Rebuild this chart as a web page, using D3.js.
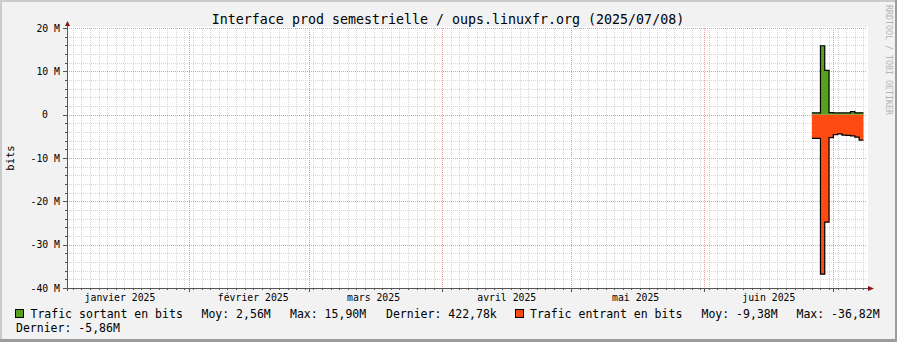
<!DOCTYPE html>
<html>
<head>
<meta charset="utf-8">
<script src="https://cdn.jsdelivr.net/npm/d3@7"></script>
<style>
	body { margin: 0; background: #fff; }
	svg { display: block; }
	text { font-family: 'DejaVu Sans Mono', monospace; }
</style>
</head>
<body>
<svg></svg>
<script>
'use strict'

// jours (UTC) et valeurs en bits/s
let days = ['2025-06-26', '2025-06-27', '2025-06-28', '2025-06-29', '2025-06-30', '2025-07-01',
	'2025-07-02', '2025-07-03', '2025-07-04', '2025-07-05', '2025-07-06', '2025-07-07']
let sortant = [0.40, 0.40, 15.90, 10.20, 0.45, 0.40, 0.40, 0.40, 0.40, 0.72, 0.42, 0.42]
let entrant = [5.45, 5.45, 36.82, 24.80, 5.30, 4.60, 4.45, 4.70, 4.80, 4.90, 5.20, 5.86]

let monthLabels = ['janvier 2025', 'février 2025', 'mars 2025', 'avril 2025', 'mai 2025', 'juin 2025']
let legendOut = ['Trafic sortant en bits', 'Moy: 2,56M', 'Max: 15,90M', 'Dernier: 422,78k']
let legendIn = ['Trafic entrant en bits', 'Moy: -9,38M', 'Max: -36,82M', 'Dernier: -5,86M']
let title = 'Interface prod semestrielle / oups.linuxfr.org (2025/07/08)'

let width = 897,
	height = 342

let pLeft = 67, pRight = 867, pTop = 28, pBottom = 288

let colOut = '#55a01d',
	colIn = '#ff4b12'

let svg = d3.select('svg')
	.attr('width', width)
	.attr('height', height)

// fond + ombrage style rrdtool
svg.append('rect').attr('width', width).attr('height', height).attr('fill', '#f2f2f2')
svg.append('path').attr('d', 'M0,0H' + width + 'V2H2V' + height + 'H0Z').attr('fill', '#cbcbcb')
svg.append('path').attr('d', 'M' + width + ',0V' + height + 'H0V' + (height - 3) + 'H' + (width - 2) + 'V0Z').attr('fill', '#9c9c9c')

let start = new Date(Date.UTC(2025, 0, 3, 16)),
	end = new Date(Date.UTC(2025, 6, 8, 20))

let x = d3.scaleUtc().domain([start, end]).range([pLeft, pRight])
let y = d3.scaleLinear().domain([-40e6, 20e6]).range([pBottom, pTop])

svg.append('rect')
	.attr('x', pLeft).attr('y', pTop - 1)
	.attr('width', pRight - pLeft + 1).attr('height', pBottom - pTop + 1)
	.attr('fill', '#ffffff')

let px = function(v) { return Math.round(v) + 0.5 }

let grid = svg.append('g').attr('class', 'grid')

// grille fine : tous les 2 jours, tous les 2 M
let jan1 = new Date(Date.UTC(2025, 0, 1))
let minorDays = d3.utcDay.range(start, end).filter(function(d) {
	return d3.utcDay.count(jan1, d) % 2 === 0
})
let months = d3.utcMonth.range(start, end)
let labelMonths = d3.utcMonth.range(jan1, end).slice(0, monthLabels.length)

grid.selectAll('line.vmin')
	.data(minorDays)
	.enter().append('line')
	.attr('x1', function(d) { return px(x(d)) })
	.attr('x2', function(d) { return px(x(d)) })
	.attr('y1', pTop).attr('y2', pBottom)
	.attr('stroke', '#d6d6d6')
	.attr('stroke-dasharray', '1,1')

grid.selectAll('line.hmin')
	.data(d3.range(-40e6, 20e6 + 1, 2e6))
	.enter().append('line')
	.attr('x1', pLeft).attr('x2', pRight)
	.attr('y1', function(d) { return px(y(d)) })
	.attr('y2', function(d) { return px(y(d)) })
	.attr('stroke', '#d6d6d6')
	.attr('stroke-dasharray', '1,1')

grid.selectAll('line.vmaj')
	.data(months)
	.enter().append('line')
	.attr('x1', function(d) { return px(x(d)) })
	.attr('x2', function(d) { return px(x(d)) })
	.attr('y1', pTop).attr('y2', pBottom)
	.attr('stroke', '#ef9a9a')
	.attr('stroke-dasharray', '1,1')

let yMajor = y.ticks(6)

grid.selectAll('line.hmaj')
	.data(yMajor)
	.enter().append('line')
	.attr('x1', pLeft).attr('x2', pRight)
	.attr('y1', function(d) { return px(y(d)) })
	.attr('y2', function(d) { return px(y(d)) })
	.attr('stroke', '#ef9a9a')
	.attr('stroke-dasharray', '1,1')

// courbes
let pts = function(vals, sign) {
	let p = days.map(function(d, i) {
		return { t: new Date(d + 'T00:00:00Z'), v: sign * vals[i] * 1e6 }
	})
	p.push({ t: d3.utcDay.offset(p[p.length - 1].t, 1), v: p[p.length - 1].v })
	return p
}

let area = d3.area()
	.curve(d3.curveStepAfter)
	.x(function(d) { return x(d.t) })
	.y0(y(0))
	.y1(function(d) { return y(d.v) })

let line = d3.line()
	.curve(d3.curveStepAfter)
	.x(function(d) { return x(d.t) })
	.y(function(d) { return y(d.v) })

let outPts = pts(sortant, 1),
	inPts = pts(entrant, -1)

svg.append('path').attr('d', area(outPts)).attr('fill', colOut)
svg.append('path').attr('d', area(inPts)).attr('fill', colIn)
svg.append('path').attr('d', line(outPts)).attr('fill', 'none').attr('stroke', '#000').attr('stroke-width', 1.2)
svg.append('path').attr('d', line(inPts)).attr('fill', 'none').attr('stroke', '#000').attr('stroke-width', 1.2)

// axes
let axisCol = '#555555'
let ticks = svg.append('g').attr('stroke', axisCol)

ticks.selectAll('line.yt')
	.data(d3.range(-40e6, 20e6 + 1, 2e6))
	.enter().append('line')
	.attr('x1', function(d) { return yMajor.indexOf(d) >= 0 ? pLeft - 4 : pLeft - 2 })
	.attr('x2', pLeft)
	.attr('y1', function(d) { return px(y(d)) })
	.attr('y2', function(d) { return px(y(d)) })

ticks.selectAll('line.xt')
	.data(minorDays.concat(months))
	.enter().append('line')
	.attr('x1', function(d) { return px(x(d)) })
	.attr('x2', function(d) { return px(x(d)) })
	.attr('y1', pBottom)
	.attr('y2', function(d) { return months.indexOf(d) >= 0 ? pBottom + 4 : pBottom + 2 })

svg.append('line')
	.attr('x1', pLeft + 0.5).attr('x2', pLeft + 0.5)
	.attr('y1', pBottom + 3).attr('y2', pTop - 4)
	.attr('stroke', axisCol)
svg.append('line')
	.attr('x1', pLeft - 4).attr('x2', pRight + 2)
	.attr('y1', pBottom + 0.5).attr('y2', pBottom + 0.5)
	.attr('stroke', axisCol)

svg.append('path')
	.attr('d', 'M' + (pLeft - 2) + ',' + (pTop - 2) + 'L' + (pLeft + 0.5) + ',' + (pTop - 7) + 'L' + (pLeft + 3) + ',' + (pTop - 2) + 'Z')
	.attr('fill', '#8b1010')
svg.append('path')
	.attr('d', 'M' + (pRight + 1) + ',' + (pBottom - 2) + 'L' + (pRight + 7) + ',' + (pBottom + 0.5) + 'L' + (pRight + 1) + ',' + (pBottom + 3) + 'Z')
	.attr('fill', '#8b1010')

// libellés des axes
svg.append('g')
	.selectAll('text')
	.data(yMajor)
	.enter().append('text')
	.attr('x', function(d) { return d === 0 ? pLeft - 19 : pLeft - 7 })
	.attr('y', function(d) { return y(d) + 3.5 })
	.attr('text-anchor', 'end')
	.style('font-size', '9.8px')
	.text(function(d) { return d === 0 ? '0' : (d / 1e6) + ' M' })

svg.append('g')
	.selectAll('text')
	.data(labelMonths)
	.enter().append('text')
	.attr('x', function(d) { return x(d3.utcDay.offset(d, 15)) })
	.attr('y', pBottom + 13)
	.attr('text-anchor', 'middle')
	.style('font-size', '9.8px')
	.text(function(d, i) { return monthLabels[i] })

svg.append('text')
	.attr('transform', 'translate(14,' + ((pTop + pBottom) / 2) + ') rotate(-90)')
	.attr('text-anchor', 'middle')
	.style('font-size', '10.5px')
	.text('bits')

svg.append('text')
	.attr('x', 448)
	.attr('y', 24)
	.attr('text-anchor', 'middle')
	.style('font-size', '13.3px')
	.text(title)

svg.append('text')
	.attr('transform', 'translate(886,5) rotate(90)')
	.attr('fill', '#b4b4b4')
	.style('font-size', '8.3px')
	.text('RRDTOOL / TOBI OETIKER')

// légende
let legend = svg.append('g').style('font-size', '11.5px')
let row1 = [30.5, 201.5, 290, 386]
let row2 = [530, 701.5, 796.5]

legend.append('rect').attr('x', 15.5).attr('y', 309.5).attr('width', 8).attr('height', 8)
	.attr('fill', colOut).attr('stroke', '#000')
legend.append('rect').attr('x', 515.5).attr('y', 309.5).attr('width', 8).attr('height', 8)
	.attr('fill', colIn).attr('stroke', '#000')

legend.selectAll('text.o')
	.data(legendOut)
	.enter().append('text')
	.attr('x', function(d, i) { return row1[i] })
	.attr('y', 318)
	.text(function(d) { return d })

legend.selectAll('text.i')
	.data(legendIn)
	.enter().append('text')
	.attr('x', function(d, i) { return i < 3 ? row2[i] : 16 })
	.attr('y', function(d, i) { return i < 3 ? 318 : 332 })
	.text(function(d) { return d })

</script>
</body>
</html>
